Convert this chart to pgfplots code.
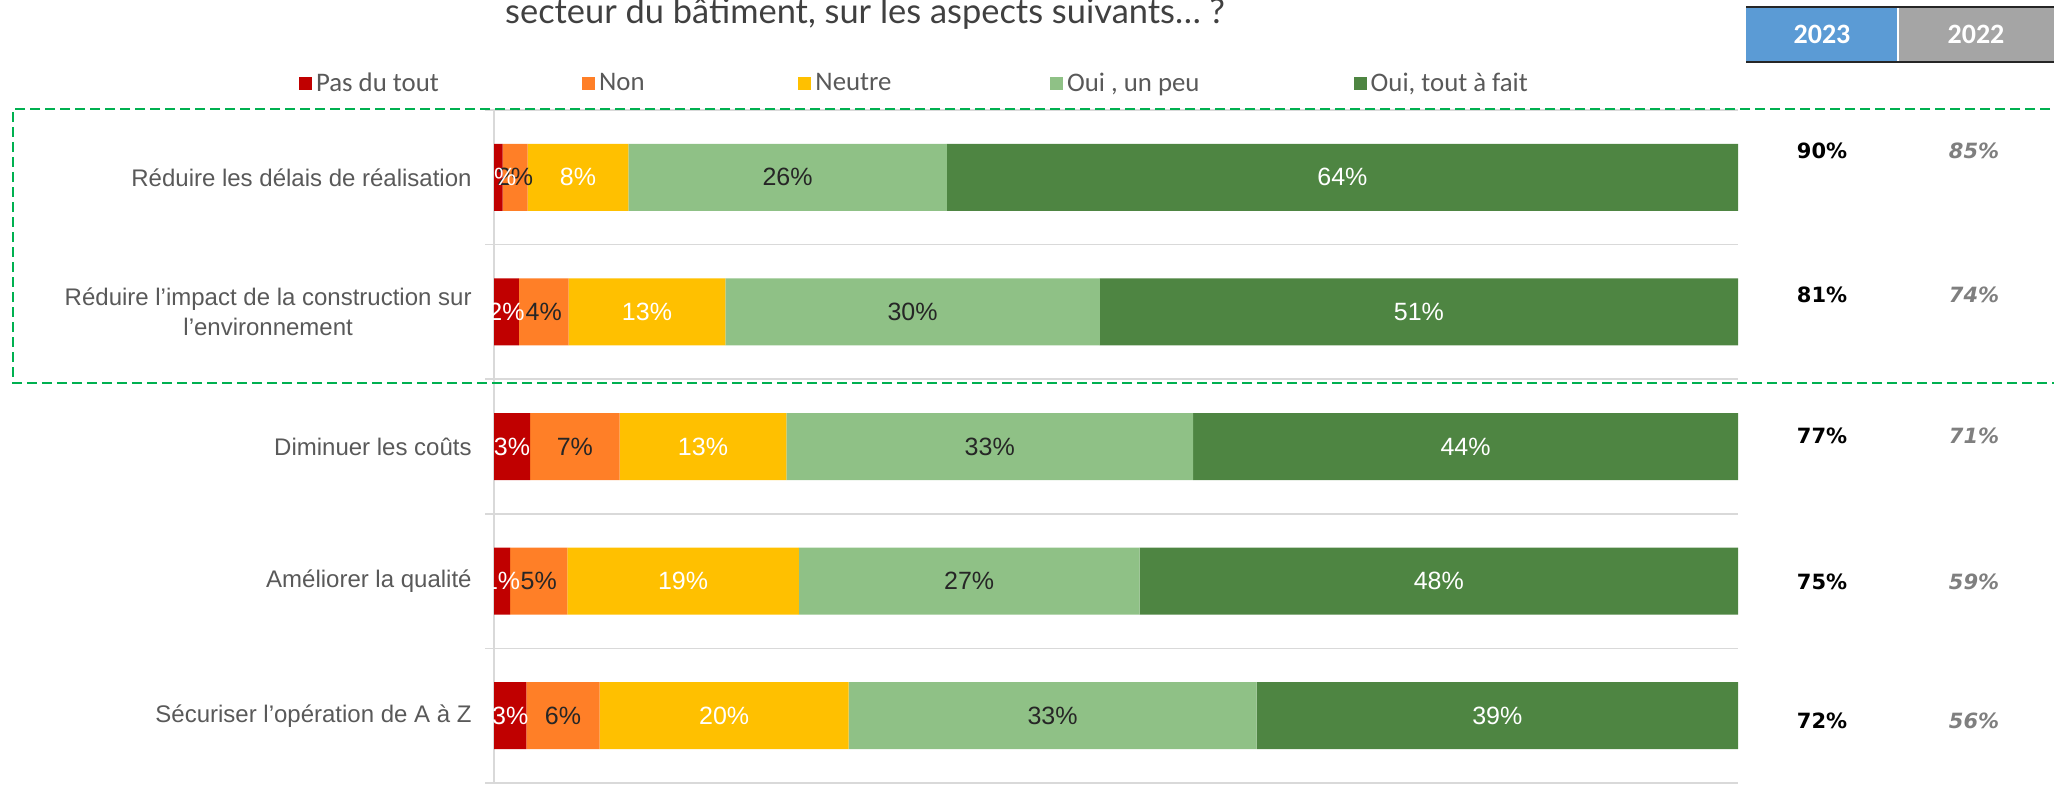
\documentclass[border=0pt]{standalone}
\usepackage{pgfplots}
\pgfplotsset{compat=1.18}
\usepackage{pgfplotstable}
\usepackage{fontspec}
\setmainfont{Liberation Sans}
\newfontfamily\carlito{Carlito}
\newfontfamily\latofont{Lato}
\newfontfamily\dejavu{DejaVu Sans}
\definecolor{cred}{HTML}{C00000}
\definecolor{corange}{HTML}{FF7F27}
\definecolor{cyellow}{HTML}{FFC000}
\definecolor{clgreen}{HTML}{8FC186}
\definecolor{cdgreen}{HTML}{4E8542}
\definecolor{gridgrey}{HTML}{D9D9D9}
\definecolor{labgrey}{HTML}{595959}
\definecolor{titlegrey}{HTML}{404040}
\definecolor{dashgreen}{HTML}{00B050}
\definecolor{hblue}{HTML}{5B9BD5}
\definecolor{hgrey}{HTML}{A5A5A5}
\definecolor{darktxt}{HTML}{262626}
\definecolor{oldgrey}{HTML}{7F7F7F}

\pgfplotstableread{
y v
0 0.7
1 2.0
2 2.9
3 1.3
4 2.6
}\tred
\pgfplotstableread{
y v
0 2.0
1 4.0
2 7.2
3 4.6
4 5.9
}\torange
\pgfplotstableread{
y v
0 8.1
1 12.6
2 13.4
3 18.6
4 20.0
}\tyellow
\pgfplotstableread{
y v
0 25.6
1 30.1
2 32.7
3 27.4
4 32.8
}\tlgreen
\pgfplotstableread{
y v
0 63.6
1 51.3
2 43.8
3 48.1
4 38.7
}\tdgreen

\pgfplotsset{seglab/.style={
  point meta=explicit,
  nodes near coords={\pgfmathprintnumber[fixed,precision=0,assume math mode=true]{\pgfplotspointmeta}\%},
  every node near coord/.append style={anchor=center, text=#1,
    font=\fontsize{12.5}{15}\selectfont},
}}

\begin{document}
\begin{tikzpicture}
\useasboundingbox (0,0) rectangle (1027pt,392pt);
\begin{axis}[
  at={(247pt,0.5pt)}, anchor=south west,
  scale only axis, width=622pt, height=336.5pt,
  xbar stacked, bar width=33.5pt,
  legend image code/.code={\fill[#1] (-1pt,-3.25pt) rectangle (5.5pt,3.25pt);},
  xmin=0, xmax=100, ymin=-0.5, ymax=4.5,
  y dir=reverse,
  enlargelimits=false, clip=false,
  axis x line=none,
  axis y line*=left,
  y axis line style={draw=gridgrey, line width=0.75pt, -},
  xtick=\empty,
  ytick={0,1,2,3,4},
  yticklabels={{Réduire les délais de réalisation},{Réduire l’impact de la construction sur\\l’environnement},{Diminuer les coûts},{Améliorer la qualité},{Sécuriser l’opération de A à Z}},
  yticklabel style={font=\fontsize{12}{15}\selectfont, text=labgrey, align=center, inner sep=0pt, xshift=-11pt},
  major tick length=0pt,
  minor ytick={-0.5,0.5,1.5,2.5,3.5,4.5},
  yminorgrids,
  minor grid style={draw=gridgrey, line width=0.75pt},
  minor tick length=4.5pt,
  tick align=outside,
  minor tick style={draw=gridgrey, line width=0.75pt},
  legend columns=5,
  legend cell align=left,
  legend style={at={(axis description cs:-0.157,1.039)}, anchor=west, draw=none, fill=none, inner sep=0pt,
    font=\carlito\fontsize{13.4}{15}\selectfont, text=labgrey},
]
\addplot[fill=cred, draw=none, seglab=white] table[x=v, y=y, meta=v] {\tred};
\addlegendentry{\makebox[131pt][l]{Pas du tout}}
\addplot[fill=corange, draw=none, seglab=darktxt] table[x=v, y=y, meta=v] {\torange};
\addlegendentry{\makebox[97.7pt][l]{Non}}
\addplot[fill=cyellow, draw=none, seglab=white] table[x=v, y=y, meta=v] {\tyellow};
\addlegendentry{\makebox[115.3pt][l]{Neutre}}
\addplot[fill=clgreen, draw=none, seglab=darktxt] table[x=v, y=y, meta=v] {\tlgreen};
\addlegendentry{\makebox[141.3pt][l]{Oui , un peu}}
\addplot[fill=cdgreen, draw=none, seglab=white] table[x=v, y=y, meta=v] {\tdgreen};
\addlegendentry{Oui, tout à fait}
\end{axis}

% title (second line, partly cut)
\node[anchor=base, font=\latofont\fontsize{17.2}{20}\selectfont, text=titlegrey] at (432.5pt,380pt) {secteur du bâtiment, sur les aspects suivants… ?};

% header boxes
\fill[hblue] (873pt,361pt) rectangle (949pt,388.5pt);
\fill[hgrey] (949pt,361pt) rectangle (1027pt,388.5pt);
\draw[white, line width=0.75pt] (949pt,361pt) -- (949pt,388.5pt);
\draw[darktxt, line width=0.9pt] (873pt,388.5pt) -- (1027pt,388.5pt);
\draw[darktxt, line width=0.9pt] (873pt,361pt) -- (1027pt,361pt);
\node[font=\carlito\bfseries\fontsize{14}{16}\selectfont, text=white] at (911pt,374.75pt) {2023};
\node[font=\carlito\bfseries\fontsize{14}{16}\selectfont, text=white] at (988pt,374.75pt) {2022};

% right columns
\foreach \yy/\a/\b in {316.5/90/85, 244.5/81/74, 174/77/71, 101/75/59, 31.5/72/56} {
  \node[font=\dejavu\bfseries\fontsize{10.5}{12}\selectfont, text=black] at (911pt,\yy pt) {\a\%};
  \node[font=\dejavu\bfseries\itshape\fontsize{10.5}{12}\selectfont, text=oldgrey] at (987pt,\yy pt) {\b\%};
}

% dashed highlight
\draw[dashgreen, line width=1.4pt, dash pattern=on 5pt off 2.5pt] (1040pt,337.5pt) -- (6.5pt,337.5pt) -- (6.5pt,200.5pt) -- (1040pt,200.5pt);
\end{tikzpicture}
\end{document}
